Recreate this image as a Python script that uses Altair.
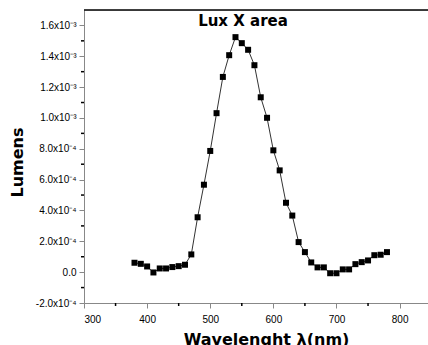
import altair as alt
import pandas as pd

# ---- data ----
wavelength = [380, 390, 400, 410, 420, 430, 440, 450, 460, 470,
              480, 490, 500, 510, 520, 530, 540, 550, 560, 570,
              580, 590, 600, 610, 620, 630, 640, 650, 660, 670,
              680, 690, 700, 710, 720, 730, 740, 750, 760, 770, 780]
lumens = [6.1e-5, 5.4e-5, 3.7e-5, -0.2e-5, 2.4e-5, 2.4e-5, 3.3e-5, 3.9e-5, 4.8e-5, 1.15e-4,
          3.56e-4, 5.67e-4, 7.86e-4, 1.031e-3, 1.266e-3, 1.407e-3, 1.524e-3, 1.485e-3, 1.442e-3, 1.342e-3,
          1.134e-3, 1.001e-3, 7.9e-4, 6.6e-4, 4.5e-4, 3.67e-4, 1.95e-4, 1.3e-4, 6.3e-5, 3.1e-5,
          3.1e-5, -0.7e-5, -0.7e-5, 1.8e-5, 1.8e-5, 5.2e-5, 6.5e-5, 7.6e-5, 1.1e-4, 1.13e-4, 1.3e-4]

x_major = [300, 400, 500, 600, 700, 800]
x_minor = [350, 450, 550, 650, 750]
y_major = [-2.0e-4, 0.0, 2.0e-4, 4.0e-4, 6.0e-4, 8.0e-4, 1.0e-3, 1.2e-3, 1.4e-3, 1.6e-3]
y_labels = ["-2.0x10⁻⁴", "0.0", "2.0x10⁻⁴", "4.0x10⁻⁴", "6.0x10⁻⁴", "8.0x10⁻⁴",
            "1.0x10⁻³", "1.2x10⁻³", "1.4x10⁻³", "1.6x10⁻³"]
y_minor = [-1.0e-4, 1.0e-4, 3.0e-4, 5.0e-4, 7.0e-4, 9.0e-4, 1.1e-3, 1.3e-3, 1.5e-3]

W, H = 344, 293

df = pd.DataFrame({"wl": wavelength, "lm": lumens})

# label expression built from the label lists
expr = "''"
for v, lab in zip(y_major, y_labels):
    expr = f"abs(datum.value - ({v})) < 1e-6 ? '{lab}' : ({expr})"

xscale = alt.Scale(domain=[300, 845], nice=False, zero=False)
yscale = alt.Scale(domain=[-2.0e-4, 1.7e-3], nice=False, zero=False)

xaxis = alt.Axis(values=x_major, title="Wavelenght  λ(nm)", grid=False, tickSize=5,
                 labelPadding=6, titleX=182, titleY=41, titleBaseline="alphabetic",
                 titleAlign="center", titleFont="DejaVu Sans", titleFontSize=16,
                 titleFontWeight="bold", format="d")
yaxis = alt.Axis(values=y_major, labelExpr=expr, title="Lumens", grid=False, tickSize=5,
                 labelPadding=3, titleX=-67, titleY=152, titleAngle=270,
                 titleAlign="center", titleBaseline="middle", titleFont="DejaVu Sans",
                 titleFontSize=16, titleFontWeight="bold")

line = alt.Chart(df).mark_line(color="#333", strokeWidth=1).encode(
    x=alt.X("wl:Q", scale=xscale, axis=xaxis),
    y=alt.Y("lm:Q", scale=yscale, axis=yaxis),
)
pts = alt.Chart(df).mark_square(size=36, color="black", opacity=1).encode(
    x=alt.X("wl:Q", scale=xscale, axis=xaxis),
    y=alt.Y("lm:Q", scale=yscale, axis=yaxis),
)
ymin = alt.Chart(pd.DataFrame({"v": y_minor})).mark_rule(color="black", strokeWidth=1.5).encode(
    y=alt.Y("v:Q", scale=yscale, axis=yaxis),
    x=alt.value(-3), x2=alt.value(0),
)
xmin = alt.Chart(pd.DataFrame({"v": x_minor})).mark_rule(color="black", strokeWidth=1.5).encode(
    x=alt.X("v:Q", scale=xscale, axis=xaxis),
    y=alt.value(H), y2=alt.value(H + 3),
)
top = alt.Chart(pd.DataFrame({"a": [0]})).mark_rule(color="black", strokeWidth=1.5).encode(
    x=alt.value(0), x2=alt.value(W), y=alt.value(0),
)

chart = alt.layer(line, pts, ymin, xmin, top).properties(
    width=W, height=H,
    autosize=alt.AutoSizeParams(type="none"),
    padding={"left": 84, "top": 10, "right": 0, "bottom": 42},
    title=alt.TitleParams("Lux X area", anchor="middle", offset=-20, dx=-13,
                          font="DejaVu Sans", fontSize=15, fontWeight="bold", color="black"),
).configure_view(strokeWidth=0).configure_axis(
    domainColor="black", domainWidth=1.5, tickColor="black", tickWidth=1.5,
    labelFont="Liberation Sans", labelFontSize=10, labelColor="#333",
    titleColor="black",
).configure(background="white")

chart.save("out.html", embed_options={"renderer": "svg", "actions": False})
